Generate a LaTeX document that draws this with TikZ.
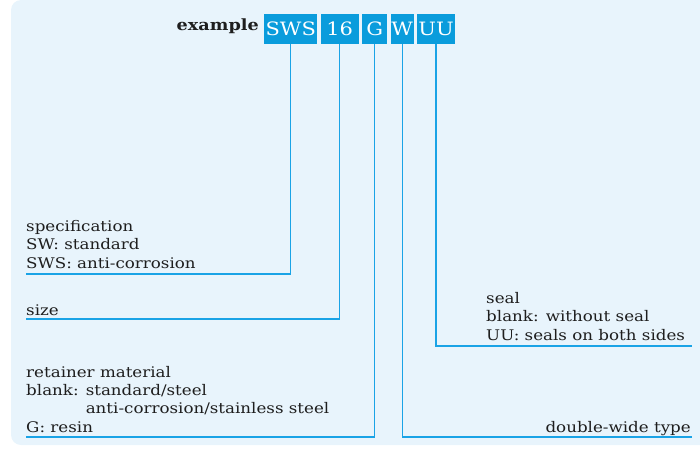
\documentclass[tikz,border=0pt]{standalone}
\usepackage{fontspec}
\setmainfont[FakeStretch=1.14]{DejaVu Serif}
\usetikzlibrary{positioning}
\definecolor{panel}{HTML}{E8F4FC}
\definecolor{codeblue}{HTML}{0A9CDC}
\definecolor{leadblue}{HTML}{1AA3E6}
\definecolor{ink}{HTML}{1E1E1E}
\tikzset{
  codebox/.style={fill=codeblue,text=white,minimum height=.9cm,inner sep=0pt,
    font=\fontsize{15.7}{18}\selectfont},
  keytext/.style={text=ink,align=left,inner sep=0pt,font=\fontsize{12.5}{15.4}\selectfont},
  headtext/.style={text=ink,inner sep=0pt,font=\fontsize{13.2}{16}\selectfont\bfseries},
  leader/.style={draw=leadblue,line width=1.1pt}}
\begin{document}
\begin{tikzpicture}[x=.03cm,y=-.03cm,node distance=.09cm]
\useasboundingbox (0,0) rectangle (700,449);
\fill[panel,rounded corners=.3cm] (11,0) rectangle (715,445);
\node[codebox,minimum width=1.59cm,anchor=north west] (sws) at (264,14) {SWS};
\node[codebox,minimum width=1.14cm,right=of sws] (num) {16};
\node[codebox,minimum width=.75cm,right=of num] (gbox) {G};
\node[codebox,minimum width=.69cm,right=of gbox] (wbox) {W};
\node[codebox,minimum width=1.14cm,right=of wbox] (uu) {UU};
\node[headtext,anchor=base east] (ex) at (259,30) {example};
% multi-line texts: base anchor sits on the last line
\node[keytext,anchor=base west] (spec) at (26,268) {specification\\SW: standard\\SWS: anti-corrosion};
\node[keytext,anchor=base west] (sz) at (26,315) {size};
\node[keytext,anchor=base west] (ret) at (26,432) {retainer material\\blank: standard/steel\\\hphantom{blank: }anti-corrosion/stainless steel\\G: resin};
\node[keytext,anchor=base west] (sl) at (486,340) {seal\\blank: without seal\\UU: seals on both sides};
\node[keytext,anchor=base east] (dw) at (691,432) {double-wide type};
\coordinate (specend) at (26,274);\coordinate (sizeend) at (26,319);
\coordinate (retend) at (26,437);\coordinate (wideend) at (692,437);
\coordinate (sealend) at (692,346);
\draw[leader] (sws.south) |- (specend);
\draw[leader] (num.south) |- (sizeend);
\draw[leader] (gbox.south) |- (retend);
\draw[leader] (wbox.south) |- (wideend);
\draw[leader] (uu.south) |- (sealend);
\end{tikzpicture}
\end{document}
